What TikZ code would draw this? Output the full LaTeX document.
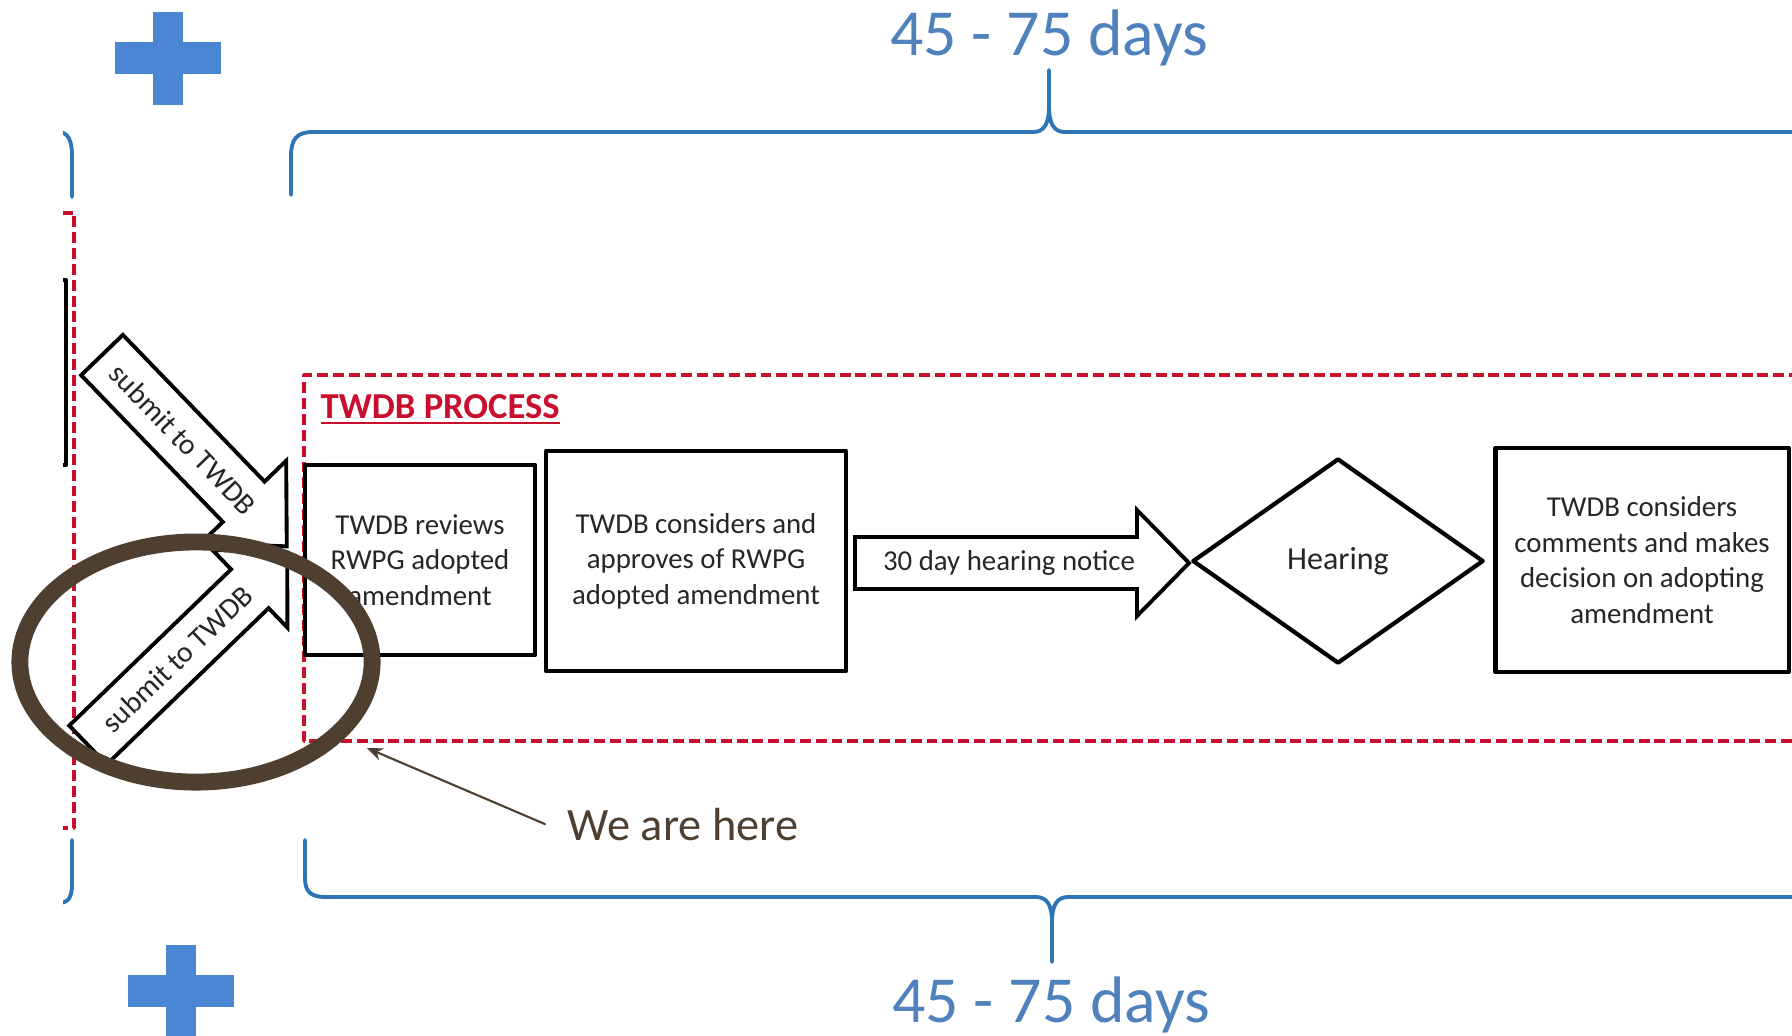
\documentclass[tikz,border=0pt]{standalone}
\usepackage{fontspec}
\setmainfont{Carlito}
\usetikzlibrary{shapes.geometric,arrows.meta}
\definecolor{braceblue}{RGB}{46,117,182}
\definecolor{daysblue}{RGB}{79,129,189}
\definecolor{plusblue}{RGB}{74,134,212}
\definecolor{procred}{RGB}{200,16,46}
\definecolor{herebrown}{RGB}{78,63,48}
\tikzset{
  procbox/.style={draw, line width=1.2pt, fill=white, align=center, text=black!85,
    font=\fontsize{8.2}{10.1}\selectfont, inner sep=0pt},
  brace/.style={draw=braceblue, line width=1.1pt},
  reddash/.style={draw=procred, line width=1pt, line cap=butt, dash pattern=on 3.1pt off 1.4pt},
  blockarrow/.style={draw, line width=1.1pt, fill=white, line join=miter},
  arrowtext/.style={text=black!85, font=\fontsize{8.4}{10}\selectfont, inner sep=0pt},
  days/.style={text=daysblue, font=\fontsize{18.7}{22}\selectfont, anchor=base, inner sep=0pt},
}
\begin{document}
\begin{tikzpicture}[x=0.01cm, y=-0.01cm, line cap=round, line join=round, >=Stealth]
\useasboundingbox (0,0) rectangle (1792,1035);
\clip (0,0) rectangle (1792,1035);
% left over from the previous step
\begin{scope}
  \clip (63,0) rectangle (300,1035);
  \draw[brace] (30,132) -- (58,132) .. controls (68,132) and (72,140) .. (72,156) -- (72,197);
  \draw[brace] (72,840) -- (72,884) .. controls (72,898) and (68,903) .. (58,903) -- (30,903);
  \draw[reddash] (30,213) -- (74,213) -- (74,828) -- (30,828);
  \draw[line width=1.2pt] (30,280) -- (66,280) -- (66,465) -- (30,465);
\end{scope}
\foreach \px/\py in {168/12, 181/945}{
  \fill[plusblue] (\px-15,\py) rectangle (\px+15,\py+93);
  \fill[plusblue] (\px-53,\py+30) rectangle (\px+53,\py+62);
}
\draw[brace] (291,195) -- (291,156) .. controls (291,139) and (297,132) .. (313,132) -- (1033,132)
  .. controls (1044,132) and (1049,124) .. (1049,106) -- (1049,70);
\draw[brace] (1049,106) .. controls (1049,124) and (1054,132) .. (1065,132) -- (1800,132);
\node[days] (toplabel) at (1049,55) {45 - 75 days};
\draw[brace] (305,840) -- (305,878) .. controls (305,892) and (311,897) .. (326,897) -- (1036,897)
  .. controls (1047,897) and (1052,905) .. (1052,922) -- (1052,962);
\draw[brace] (1052,922) .. controls (1052,905) and (1057,897) .. (1068,897) -- (1800,897);
\node[days] (botlabel) at (1051,1022) {45 - 75 days};
\draw[reddash] (1800,375) -- (304,375) -- (304,741) -- (1800,741);
\node[text=procred, font=\fontsize{10.4}{12}\selectfont\bfseries, anchor=base west, inner sep=0pt]
  (title) at (320,418) {\underline{TWDB PROCESS}};
\node[procbox, minimum width=2.3cm, minimum height=1.9cm] (review) at (420,560)
  {TWDB reviews\\RWPG adopted\\amendment};
\node[procbox, minimum width=3cm, minimum height=2.2cm] (approve) at (696,561)
  {TWDB considers and\\approves of RWPG\\adopted amendment};
\draw[blockarrow] (855,537) -- (1137,537) -- (1137,510) -- (1189,563) -- (1137,616) -- (1137,589)
  -- (855,589) -- cycle;
\node[arrowtext, font=\fontsize{8.2}{10}\selectfont] (notice) at (1009,563) {30 day hearing notice};
\node[draw, diamond, line width=1.2pt, minimum width=2.91cm, minimum height=2.05cm, inner sep=0pt,
  text=black!85, font=\fontsize{9.1}{11}\selectfont] (hearing) at (1338,561) {Hearing};
\node[procbox, minimum width=2.93cm, minimum height=2.24cm] (decide) at (1642,560)
  {TWDB considers\\comments and makes\\decision on adopting\\amendment};
\begin{scope}[shift={(102,355)}, rotate=-46]
  \draw[blockarrow] (0,-29) -- (204,-29) -- (204,-59) -- (266,0) -- (204,59) -- (204,29) -- (0,29) -- cycle;
  \node[arrowtext, rotate=-46] (submitdown) at (117,0) {submit to TWDB};
\end{scope}
\begin{scope}[shift={(88,745)}, rotate=44]
  \draw[blockarrow] (0,-27) -- (225,-27) -- (225,-54) -- (277,0) -- (225,54) -- (225,27) -- (0,27) -- cycle;
  \node[arrowtext, rotate=44] (submitup) at (124,0) {submit to TWDB};
\end{scope}
\draw[herebrown, line width=4.8pt] (196,662) ellipse [x radius=1.76cm, y radius=1.2cm];
\node[text=herebrown, font=\fontsize{13.2}{16}\selectfont, anchor=base west, inner xsep=0.22cm, inner ysep=0pt]
  (here) at (545,840) {We are here};
\coordinate (spot) at (367,748);
\draw[herebrown, line width=0.6pt, -{Stealth[length=4.5pt, width=3.6pt]}] (here.west) -- (spot);
\end{tikzpicture}
\end{document}
